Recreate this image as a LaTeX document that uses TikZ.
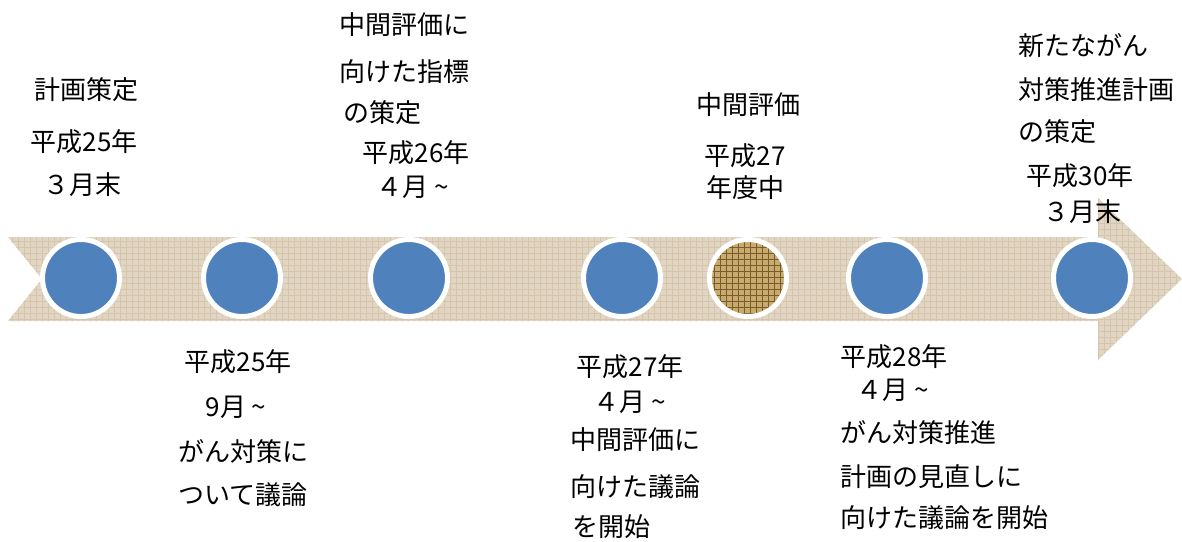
\documentclass[tikz,border=0pt]{standalone}
\usepackage{fontspec}
\newfontfamily\jp{Noto Sans CJK JP}
\usepackage{tikz}
\usetikzlibrary{patterns}
\definecolor{dotblue}{RGB}{79,129,189}
\definecolor{bandtan}{RGB}{226,214,194}
\definecolor{bandline}{RGB}{212,198,174}
\definecolor{gold}{RGB}{200,170,108}
\definecolor{golddark}{RGB}{120,92,45}

\begin{document}
\begin{tikzpicture}[x=0.5pt,y=-0.5pt,
	ring/.style={circle,draw=white,line width=2.5pt,minimum size=38.5pt,inner sep=0pt},
	dot/.style={ring,fill=dotblue},
	golddot/.style={ring,preaction={fill=gold},pattern=grid,pattern color=golddark},
	lbl/.style={font=\jp\fontsize{13pt}{15pt}\selectfont,inner sep=0pt}]
	\useasboundingbox (0,0) rectangle (1182,541);

	% the time line
	\fill[bandtan,postaction={pattern=grid,pattern color=bandline}]
		(8,237) -- (1098,237) -- (1098,198) -- (1182,279) -- (1098,360)
		-- (1098,321) -- (8,321) -- (42,279) -- cycle;

	\foreach \x/\s [count=\i] in {81/dot,242/dot,409/dot,622/dot,748/golddot,887/dot,1092/dot}
		\node[\s] (c\i) at (\x,278) {};

	% above the line
	\foreach \t/\x/\y [count=\i] in {計画策定/86/90,平成25年/84/142,３月末/82/185}
		\node[lbl] (a\i) at (\x,\y) {\t};
	\foreach \t/\x/\y [count=\i] in {中間評価に/404/25,向けた指標/404/72,の策定/382/113,平成26年/416/153,４月 \textasciitilde/413/187}
		\node[lbl] (b\i) at (\x,\y) {\t};
	\foreach \t/\x/\y [count=\i] in {中間評価/748/105,平成27/745/156,年度中/745/188}
		\node[lbl] (m\i) at (\x,\y) {\t};
	\foreach \t/\x/\y [count=\i] in {新たながん/1083/46,対策推進計画/1096/90,の策定/1057/132,平成30年/1080/176,３月末/1082/212}
		\node[lbl] (n\i) at (\x,\y) {\t};

	% below the line
	\foreach \t/\x/\y [count=\i] in {平成25年/238/362,9月 \textasciitilde/236/407,がん対策に/243/452,ついて議論/243/495}
		\node[lbl] (d\i) at (\x,\y) {\t};
	\foreach \t/\x/\y [count=\i] in {平成27年/630/367,４月 \textasciitilde/630/402,中間評価に/635/440,向けた議論/635/487,を開始/611/527}
		\node[lbl] (e\i) at (\x,\y) {\t};
	\foreach \t/\x/\y [count=\i] in {平成28年/894/357,４月 \textasciitilde/893/390,がん対策推進/918/433,計画の見直しに/931/477,向けた議論を開始/944/518}
		\node[lbl] (r\i) at (\x,\y) {\t};
\end{tikzpicture}
\end{document}
